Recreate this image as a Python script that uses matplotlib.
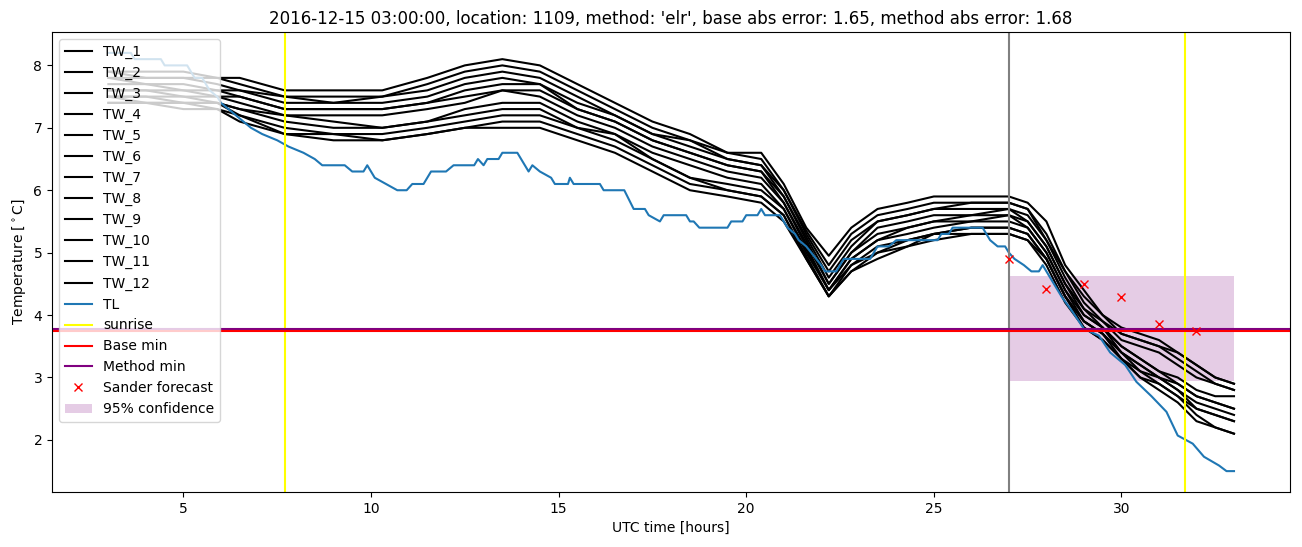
import numpy as np
import matplotlib
matplotlib.use("Agg")
import matplotlib.pyplot as plt

# zeitpunkte (UTC stunden) fuer die TW reihen
tw_time = [3.0, 4.0, 5.0, 5.9, 6.5, 7.7, 9.0, 10.3, 11.5, 12.5, 13.5, 14.5,
           15.5, 16.5, 17.5, 18.5, 19.5, 20.4, 21.0, 21.6, 22.2, 22.8, 23.5,
           24.3, 25.0, 26.0, 27.0, 27.5, 28.0, 28.5, 29.0, 29.5, 30.0, 30.5,
           31.0, 31.5, 32.0, 32.5, 33.0]

# werte je zeitpunkt, von oben nach unten (12 stationen)
tw_rows = [
    [7.9, 7.9, 7.8, 7.8, 7.7, 7.6, 7.6, 7.5, 7.5, 7.5, 7.4, 7.4],
    [7.9, 7.8, 7.8, 7.7, 7.7, 7.6, 7.6, 7.5, 7.5, 7.4, 7.4, 7.4],
    [7.9, 7.8, 7.8, 7.7, 7.6, 7.6, 7.5, 7.5, 7.4, 7.4, 7.4, 7.3],
    [7.8, 7.8, 7.7, 7.6, 7.6, 7.5, 7.5, 7.4, 7.4, 7.4, 7.3, 7.3],
    [7.8, 7.7, 7.6, 7.6, 7.5, 7.5, 7.4, 7.3, 7.3, 7.2, 7.2, 7.1],
    [7.6, 7.5, 7.5, 7.4, 7.3, 7.3, 7.2, 7.2, 7.1, 7.0, 6.9, 6.9],
    [7.6, 7.5, 7.4, 7.4, 7.3, 7.3, 7.2, 7.1, 7.0, 6.9, 6.9, 6.8],
    [7.6, 7.5, 7.5, 7.4, 7.3, 7.3, 7.2, 7.0, 7.0, 6.9, 6.8, 6.8],
    [7.8, 7.7, 7.6, 7.5, 7.4, 7.4, 7.3, 7.1, 7.1, 7.0, 6.9, 6.9],
    [8.0, 7.9, 7.8, 7.7, 7.6, 7.5, 7.4, 7.3, 7.2, 7.1, 7.0, 7.0],
    [8.1, 8.0, 7.9, 7.8, 7.7, 7.6, 7.6, 7.4, 7.3, 7.2, 7.1, 7.0],
    [8.0, 7.9, 7.8, 7.7, 7.7, 7.6, 7.5, 7.4, 7.3, 7.2, 7.1, 7.0],
    [7.7, 7.6, 7.5, 7.4, 7.3, 7.3, 7.2, 7.1, 7.0, 7.0, 6.9, 6.8],
    [7.4, 7.3, 7.2, 7.2, 7.1, 7.1, 7.0, 6.9, 6.9, 6.8, 6.7, 6.6],
    [7.1, 7.0, 6.9, 6.9, 6.8, 6.8, 6.7, 6.6, 6.5, 6.5, 6.4, 6.3],
    [6.9, 6.8, 6.8, 6.7, 6.6, 6.6, 6.5, 6.4, 6.2, 6.2, 6.1, 6.0],
    [6.6, 6.6, 6.5, 6.5, 6.4, 6.4, 6.3, 6.2, 6.1, 6.0, 6.0, 5.9],
    [6.6, 6.5, 6.4, 6.4, 6.3, 6.3, 6.2, 6.1, 6.0, 5.9, 5.9, 5.8],
    [6.1, 6.0, 6.0, 5.9, 5.9, 5.8, 5.8, 5.7, 5.7, 5.6, 5.6, 5.5],
    [5.4, 5.35, 5.3, 5.25, 5.2, 5.15, 5.1, 5.05, 5.0, 4.95, 4.9, 4.9],
    [4.95, 4.8, 4.7, 4.6, 4.5, 4.5, 4.4, 4.4, 4.4, 4.3, 4.3, 4.3],
    [5.4, 5.3, 5.2, 5.1, 5.0, 5.0, 4.9, 4.9, 4.8, 4.8, 4.7, 4.7],
    [5.7, 5.6, 5.5, 5.5, 5.4, 5.3, 5.2, 5.2, 5.1, 5.0, 5.0, 4.9],
    [5.8, 5.7, 5.6, 5.6, 5.5, 5.4, 5.4, 5.3, 5.2, 5.2, 5.1, 5.1],
    [5.9, 5.8, 5.7, 5.7, 5.6, 5.5, 5.5, 5.4, 5.3, 5.3, 5.3, 5.2],
    [5.9, 5.8, 5.8, 5.7, 5.6, 5.6, 5.5, 5.5, 5.4, 5.4, 5.3, 5.3],
    [5.9, 5.8, 5.8, 5.7, 5.7, 5.6, 5.6, 5.5, 5.4, 5.4, 5.3, 5.3],
    [5.8, 5.7, 5.7, 5.6, 5.5, 5.5, 5.4, 5.4, 5.3, 5.3, 5.2, 5.2],
    [5.5, 5.3, 5.2, 5.2, 5.1, 5.1, 5.0, 5.0, 4.9, 4.9, 4.9, 4.8],
    [4.8, 4.7, 4.7, 4.6, 4.5, 4.5, 4.4, 4.4, 4.3, 4.3, 4.3, 4.2],
    [4.4, 4.3, 4.2, 4.1, 4.1, 4.0, 4.0, 3.9, 3.9, 3.9, 3.8, 3.8],
    [4.0, 4.0, 3.9, 3.9, 3.8, 3.8, 3.8, 3.7, 3.7, 3.7, 3.6, 3.6],
    [3.8, 3.7, 3.7, 3.6, 3.5, 3.5, 3.4, 3.4, 3.4, 3.3, 3.3, 3.3],
    [3.7, 3.6, 3.6, 3.5, 3.3, 3.3, 3.2, 3.2, 3.1, 3.1, 3.0, 3.0],
    [3.6, 3.5, 3.5, 3.4, 3.1, 3.1, 3.0, 3.0, 3.0, 2.9, 2.9, 2.8],
    [3.4, 3.4, 3.3, 3.2, 3.0, 2.9, 2.9, 2.8, 2.8, 2.7, 2.7, 2.6],
    [3.2, 3.2, 3.1, 3.0, 2.8, 2.7, 2.7, 2.6, 2.5, 2.5, 2.4, 2.3],
    [3.0, 3.0, 2.9, 2.9, 2.7, 2.6, 2.6, 2.5, 2.4, 2.4, 2.2, 2.2],
    [2.9, 2.9, 2.8, 2.8, 2.7, 2.5, 2.5, 2.4, 2.3, 2.3, 2.1, 2.1],
]

# TL reihe
tl_time = [3.0, 3.6, 3.7, 4.4, 4.5, 5.1, 5.3, 5.5, 5.7, 5.9, 6.0, 6.2, 6.4,
           6.6, 6.8, 7.1, 7.5, 7.8, 8.2, 8.5, 8.7, 9.3, 9.5, 9.8, 9.9, 10.1,
           10.4, 10.7, 10.95, 11.1, 11.4, 11.6, 12.0, 12.2, 12.75, 12.85,
           13.0, 13.1, 13.4, 13.5, 13.9, 14.1, 14.2, 14.3, 14.5, 14.8, 14.9,
           15.25, 15.3, 15.4, 16.1, 16.2, 16.75, 17.0, 17.3, 17.4, 17.7,
           17.8, 18.4, 18.5, 18.6, 18.75, 19.5, 19.6, 19.9, 20.0, 20.3, 20.4,
           20.5, 20.9, 21.1, 21.3, 21.4, 21.6, 21.8, 22.0, 22.1, 22.4, 22.5,
           22.6, 23.3, 23.4, 23.5, 23.8, 24.0, 25.1, 25.2, 25.4, 25.5, 26.3,
           26.5, 26.7, 26.9, 27.0, 27.15, 27.4, 27.6, 27.8, 27.9, 28.0, 28.4,
           28.7, 29.0, 29.4, 29.7, 30.1, 30.4, 30.8, 31.2, 31.5, 31.9, 32.2,
           32.6, 32.8, 33.0]
tl_vals = [8.2, 8.2, 8.1, 8.1, 8.0, 8.0, 7.8, 7.8, 7.6, 7.5, 7.4, 7.3, 7.2,
           7.1, 7.0, 6.9, 6.8, 6.7, 6.6, 6.5, 6.4, 6.4, 6.3, 6.3, 6.4, 6.2,
           6.1, 6.0, 6.0, 6.1, 6.1, 6.3, 6.3, 6.4, 6.4, 6.5,
           6.4, 6.5, 6.5, 6.6, 6.6, 6.4, 6.3, 6.4, 6.3, 6.2, 6.1,
           6.1, 6.2, 6.1, 6.1, 6.0, 6.0, 5.7, 5.7, 5.6, 5.5,
           5.6, 5.6, 5.5, 5.5, 5.4, 5.4, 5.5, 5.5, 5.6, 5.6, 5.7,
           5.6, 5.6, 5.4, 5.3, 5.2, 5.1, 4.95, 4.8, 4.7, 4.7, 4.8,
           4.9, 4.9, 5.0, 5.1, 5.1, 5.2, 5.2, 5.3, 5.3, 5.4, 5.4,
           5.2, 5.1, 5.1, 5.0, 4.9, 4.8, 4.7, 4.7, 4.8, 4.7, 4.3,
           4.05, 3.78, 3.67, 3.4, 3.2, 2.93, 2.7, 2.45, 2.07, 1.94, 1.73,
           1.59, 1.5, 1.5]

sunrise = [7.7, 31.7]
forecast_start = 27.0
base_min = 3.74
method_min = 3.77

sander_time = [27, 28, 29, 30, 31, 32]
sander_vals = [4.9, 4.42, 4.5, 4.29, 3.86, 3.74]

conf_time = [27, 33]
conf_low = [2.95, 2.95]
conf_high = [4.62, 4.62]

tw = np.array(tw_rows)

fig, ax = plt.subplots(figsize=(13.02, 5.47), dpi=100)
for i in range(tw.shape[1]):
    ax.plot(tw_time, tw[:, i], c='black', label='TW_%d' % (i + 1))
ax.plot(tl_time, tl_vals, label='TL')
ax.axvline(sunrise[0], c='yellow', label='sunrise')
ax.axvline(sunrise[1], c='yellow')
ax.axvline(forecast_start, c='grey')
ax.axhline(method_min, c='purple', label='Method min')
ax.axhline(base_min, c='red', label='Base min')
ax.plot(sander_time, sander_vals, 'x', c='red', label='Sander forecast')
ax.fill_between(conf_time, conf_low, conf_high, color='purple', alpha=0.2,
                linewidth=0, label='95% confidence')

ax.set_title("2016-12-15 03:00:00, location: 1109, method: 'elr', "
             "base abs error: 1.65, method abs error: 1.68")
ax.set_xlabel('UTC time [hours]')
ax.set_ylabel(r'Temperature [$^\circ$C]')

# legende in der reihenfolge wie im original
h, l = ax.get_legend_handles_labels()
order = list(range(14)) + [15, 14, 16, 17]
ax.legend([h[k] for k in order], [l[k] for k in order], loc='upper left')
plt.subplots_adjust(left=0.04, right=0.991, top=0.9415, bottom=0.1005)
plt.savefig('out.png')
